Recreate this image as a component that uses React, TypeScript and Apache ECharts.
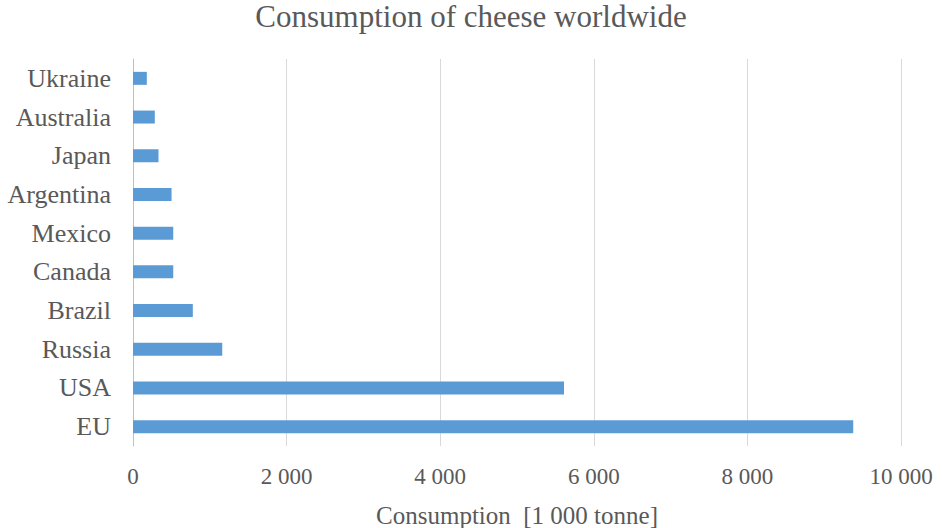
import React, { useEffect, useRef } from "react";
import * as echarts from "echarts";

const categories = ["EU", "USA", "Russia", "Brazil", "Canada", "Mexico", "Argentina", "Japan", "Australia", "Ukraine"];
const consumption = [9378, 5612, 1162, 779, 524, 524, 502, 332, 284, 180];
const xTicks = [0, 2000, 4000, 6000, 8000, 10000];

const FONT = "'Liberation Serif', 'Times New Roman', serif";
const TEXT = "#595959";

function fmt(v: number): string {
  return String(v).replace(/\B(?=(\d{3})+(?!\d))/g, " ");
}

export default function App() {
  const ref = useRef<HTMLDivElement>(null);
  useEffect(() => {
    if (!ref.current) return;
    const chart = echarts.init(ref.current, undefined, { renderer: "svg" });
    chart.setOption({
      animation: false,
      backgroundColor: "#ffffff",
      title: {
        text: "Consumption of cheese worldwide",
        left: "center",
        top: 0,
        padding: 0,
        textStyle: { fontFamily: FONT, fontSize: 31, lineHeight: 32, fontWeight: "normal", color: TEXT },
      },
      grid: { left: 133, right: 41, top: 59, bottom: 82, containLabel: false, outerBoundsMode: "none" },
      xAxis: {
        type: "value",
        min: xTicks[0],
        max: xTicks[xTicks.length - 1],
        interval: 2000,
        name: "Consumption  [1 000 tonne]",
        nameLocation: "middle",
        nameGap: 57,
        nameTextStyle: { fontFamily: FONT, fontSize: 25, color: TEXT },
        axisLine: { show: false },
        axisTick: { show: false },
        axisLabel: { fontFamily: FONT, fontSize: 23, color: TEXT, margin: 19, formatter: (v: number) => fmt(v) },
        splitLine: { show: true, lineStyle: { color: "#d9d9d9", width: 1 } },
      },
      yAxis: {
        type: "category",
        data: categories,
        axisLine: { show: true, lineStyle: { color: "#bfbfbf", width: 1 } },
        axisTick: { show: false },
        axisLabel: { fontFamily: FONT, fontSize: 26, color: TEXT, margin: 22 },
      },
      series: [
        {
          type: "bar",
          data: consumption,
          barWidth: 13,
          itemStyle: { color: "#5b9bd5" },
        },
      ],
    });
    return () => chart.dispose();
  }, []);
  return <div ref={ref} style={{ width: 942, height: 528, position: "absolute", left: 0, top: 0 }} />;
}
